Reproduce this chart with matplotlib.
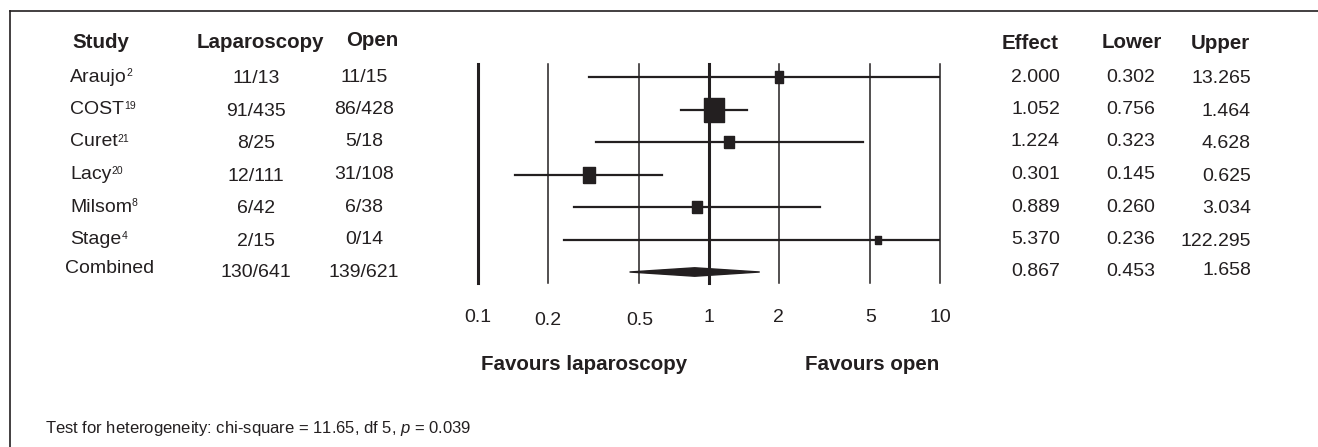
import numpy as np
import matplotlib
matplotlib.use("Agg")
import matplotlib.pyplot as plt
from matplotlib.lines import Line2D
from matplotlib.patches import Polygon
from matplotlib import transforms

plt.rcParams['font.family'] = ['Liberation Sans', 'DejaVu Sans']
plt.rcParams['mathtext.fontset'] = 'custom'
plt.rcParams['mathtext.rm'] = 'Liberation Sans'
plt.rcParams['mathtext.it'] = 'Liberation Sans:italic'

# data
studies = ['Araujo', 'COST', 'Curet', 'Lacy', 'Milsom', 'Stage']
refs = ['2', '19', '21', '20', '8', '4']
lap = ['11/13', '91/435', '8/25', '12/111', '6/42', '2/15']
opn = ['11/15', '86/428', '5/18', '31/108', '6/38', '0/14']
effect = [2.000, 1.052, 1.224, 0.301, 0.889, 5.370]
lower = [0.302, 0.756, 0.323, 0.145, 0.260, 0.236]
upper = [13.265, 1.464, 4.628, 0.625, 3.034, 122.295]
weights = [9.3, 44.1, 11.0, 19.6, 11.0, 4.9]  # approx % weight from box areas

comb_lap = '130/641'
comb_open = '139/621'
comb_effect, comb_lower, comb_upper = 0.867, 0.453, 1.658

ticks = [0.1, 0.2, 0.5, 1, 2, 5, 10]
tick_labels = ['0.1', '0.2', '0.5', '1', '2', '5', '10']

ink = '#231f20'
W, H = 1318, 447
fig = plt.figure(figsize=(W / 100, H / 100), dpi=100)

# forest panel, placed in pixel units
x0, x1 = 478, 940
y0, y1 = 64, 283
ax = fig.add_axes([x0 / W, 1 - y1 / H, (x1 - x0) / W, (y1 - y0) / H])
ax.set_xscale('log')
ax.set_xlim(0.1, 10)
row0, step = 77, 32.5
ax.set_ylim((y1 - row0) / step, (y0 - row0) / step)
for s in ax.spines.values():
    s.set_visible(False)
ax.set_yticks([])
ax.minorticks_off()
ax.set_xticks(ticks)
ax.set_xticklabels(tick_labels, fontsize=14, color=ink)
ax.tick_params(axis='x', length=0, pad=19)
for lbl in ax.get_xticklabels():
    if lbl.get_text() in ('0.2', '0.5'):
        lbl.set_transform(lbl.get_transform() +
                          transforms.ScaledTranslation(0, -0.03, fig.dpi_scale_trans))

for t in ticks:
    thick = t in (0.1, 1)
    ax.axvline(t, color=ink, lw=2.2 if thick else 1.1, clip_on=False, zorder=1)

box = [(-0.4, -0.5), (0.4, -0.5), (0.4, 0.5), (-0.4, 0.5), (-0.4, -0.5)]
rows = np.arange(len(studies))
for i in rows:
    ax.plot([lower[i], upper[i]], [i, i], color=ink, lw=1.6, zorder=2)
    ax.plot(effect[i], i, marker=box, markersize=2.6 * np.sqrt(weights[i]),
            color=ink, mec=ink, zorder=3, clip_on=False)

yc = len(studies)
dh = 0.13
ax.add_patch(Polygon([(comb_lower, yc), (comb_effect, yc - dh), (comb_upper, yc),
                      (comb_effect, yc + dh)], closed=True, color=ink, zorder=3))

# text columns: x in figure pixels, y in row units
tr = transforms.blended_transform_factory(fig.transFigure, ax.transData)
fx = lambda px: px / W
hdr_y = (42 - row0) / step
fs = 14
hfs = 14.8

def header(x, txt, ha, dy=0.0):
    ax.text(fx(x), hdr_y + dy, txt, transform=tr, ha=ha, va='center',
            fontsize=hfs, fontweight='bold', color=ink)

header(101, 'Study', 'center')
header(260, 'Laparoscopy', 'center')
header(372, 'Open', 'center', -0.06)
header(1059, 'Effect', 'right', 0.04)
header(1162, 'Lower', 'right')
header(1250, 'Upper', 'right', 0.04)

for i in rows:
    t = ax.text(fx(70), i, studies[i], transform=tr, ha='left', va='center',
                fontsize=fs, color=ink)
    ax.annotate(refs[i], xy=(1.0, 1.0), xycoords=t, ha='left', va='top',
                fontsize=7.5, color=ink)
    ax.text(fx(256), i + 0.05, lap[i], transform=tr, ha='center', va='center',
            fontsize=fs, color=ink)
    ax.text(fx(364), i, opn[i], transform=tr, ha='center', va='center',
            fontsize=fs, color=ink)
    ax.text(fx(1060), i, f'{effect[i]:.3f}', transform=tr, ha='right', va='center',
            fontsize=fs, color=ink)
    ax.text(fx(1155), i, f'{lower[i]:.3f}', transform=tr, ha='right', va='center',
            fontsize=fs, color=ink)
    ax.text(fx(1251), i + 0.06, f'{upper[i]:.3f}', transform=tr, ha='right',
            va='center', fontsize=fs, color=ink)

ax.text(fx(65), yc - 0.1, 'Combined', transform=tr, ha='left', va='center',
        fontsize=fs, color=ink)
ax.text(fx(256), yc + 0.03, comb_lap, transform=tr, ha='center', va='center',
        fontsize=fs, color=ink)
ax.text(fx(364), yc + 0.03, comb_open, transform=tr, ha='center', va='center',
        fontsize=fs, color=ink)
ax.text(fx(1060), yc, f'{comb_effect:.3f}', transform=tr, ha='right', va='center',
        fontsize=fs, color=ink)
ax.text(fx(1155), yc, f'{comb_lower:.3f}', transform=tr, ha='right', va='center',
        fontsize=fs, color=ink)
ax.text(fx(1251), yc - 0.05, f'{comb_upper:.3f}', transform=tr, ha='right', va='center',
        fontsize=fs, color=ink)

fig.text(584 / W, 1 - 364 / H, 'Favours laparoscopy', ha='center', va='center',
         fontsize=hfs, fontweight='bold', color=ink)
fig.text(872 / W, 1 - 364 / H, 'Favours open', ha='center', va='center',
         fontsize=hfs, fontweight='bold', color=ink)

fig.text(45 / W, 1 - 428 / H,
         'Test for heterogeneity: chi-square = 11.65, df 5, $p$ = 0.039',
         ha='left', va='center', fontsize=12, color=ink)

# frame (open at right and bottom, as in the source)
fig.add_artist(Line2D([9.5 / W, 9.5 / W], [1 - 11 / H, 0], color=ink, lw=1.2,
                      transform=fig.transFigure))
fig.add_artist(Line2D([9.5 / W, 1], [1 - 11 / H, 1 - 11 / H], color=ink, lw=1.2,
                      transform=fig.transFigure))

fig.savefig('out.png', dpi=100)
